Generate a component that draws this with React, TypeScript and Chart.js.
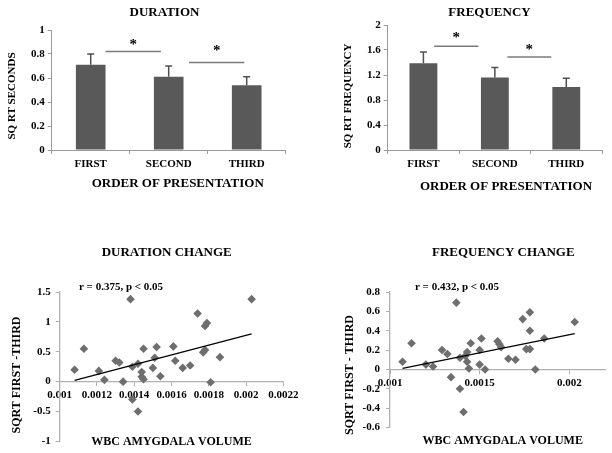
import React, { useEffect, useRef } from "react";
import { Chart, registerables } from "chart.js";

Chart.register(...registerables);

const W = 612;
const H = 453;
const FONT = "'Liberation Serif', 'Times New Roman', serif";

// ---------- DATA ----------
const orderCategories = ["FIRST", "SECOND", "THIRD"];

const durationMeans = [0.71, 0.61, 0.54];
const durationErrors = [0.09, 0.09, 0.07];
const durationTicks = [0, 0.2, 0.4, 0.6, 0.8, 1];
const durationSigFrom = [0.19, 1.26];
const durationSigTo = [0.9, 1.97];
const durationSigY = [0.82, 0.73];
const durationStarY = [0.9, 0.85];

const frequencyMeans = [1.39, 1.16, 1.01];
const frequencyErrors = [0.18, 0.16, 0.14];
const frequencyTicks = [0, 0.4, 0.8, 1.2, 1.6, 2];
const frequencySigFrom = [0.15, 1.175];
const frequencySigTo = [0.77, 1.79];
const frequencySigY = [1.66, 1.49];
const frequencyStarY = [1.84, 1.65];

const durChangeVolume = [
  0.00108, 0.00113, 0.00121, 0.00124, 0.0013, 0.00132, 0.00134, 0.00138, 0.00139, 0.00139,
  0.00142, 0.00142, 0.00144, 0.00144, 0.00145, 0.00145, 0.0015, 0.00151, 0.00152, 0.00154,
  0.00161, 0.00162, 0.00166, 0.0017, 0.00174, 0.00177, 0.00178, 0.00178, 0.00179, 0.00181,
  0.00186, 0.00203,
];
const durChangeValue = [
  0.2, 0.55, 0.18, 0.03, 0.35, 0.32, 0.0, 1.38, 0.25, -0.3,
  0.3, -0.5, 0.16, 0.08, 0.55, 0.04, 0.23, 0.4, 0.58, 0.09,
  0.59, 0.35, 0.23, 0.27, 1.14, 0.49, 0.53, 0.93, 0.98, -0.01,
  0.41, 1.38,
];
const durTrendVolume = [0.00108, 0.00203];
const durTrendValue = [0.02, 0.8];
const durXTicks = [0.001, 0.0012, 0.0014, 0.0016, 0.0018, 0.002, 0.0022];
const durYTicks = [-1, -0.5, 0, 0.5, 1, 1.5];

const freqChangeVolume = [
  0.00107, 0.00112, 0.0012, 0.00124, 0.00129, 0.00132, 0.00134, 0.00137, 0.00139, 0.00139,
  0.00141, 0.00142, 0.00143, 0.00143, 0.00144, 0.00145, 0.0015, 0.0015, 0.00151, 0.00153,
  0.0016, 0.00161, 0.00162, 0.00166, 0.0017, 0.00174, 0.00176, 0.00178, 0.00178, 0.00178,
  0.00181, 0.00186, 0.00203,
];
const freqChangeValue = [
  0.08, 0.27, 0.05, 0.03, 0.2, 0.16, -0.08, 0.69, -0.2, 0.12,
  -0.44, 0.14, 0.18, 0.08, 0.01, 0.27, 0.05, 0.2, 0.32, 0.0,
  0.29, 0.26, 0.23, 0.11, 0.1, 0.52, 0.21, 0.21, 0.59, 0.4,
  0.0, 0.32, 0.49,
];
const freqTrendVolume = [0.00107, 0.00203];
const freqTrendValue = [0.01, 0.37];
const freqXTicks = [0.001, 0.0015, 0.002];
const freqXMax = 0.0022;
const freqYTicks = [-0.6, -0.4, -0.2, 0, 0.2, 0.4, 0.6, 0.8];

// ---------- HELPERS ----------
const fmt = (v: number) => String(Number(v.toPrecision(6)));
const tickFont = { family: FONT, size: 11, weight: "bold" as const };
const AXIS_GREY = "#9a9a9a";

type Area = { left: number; right: number; top: number; bottom: number };
const YW = 40;
const XH = 40;

function padFor(area: Area, xTakesSpace: boolean) {
  return {
    left: area.left - YW,
    right: W - area.right,
    top: area.top,
    bottom: H - area.bottom - (xTakesSpace ? XH : 0),
  };
}

const setTicks = (values: number[]) => (scale: any) => {
  scale.ticks = values.map((v) => ({ value: v }));
};

const textPlugin = {
  id: "texts",
  afterDraw(chart: any, _args: any, opts: any) {
    const ctx = chart.ctx;
    for (const t of opts.items || []) {
      ctx.save();
      ctx.font = `bold ${t.size}px ${FONT}`;
      ctx.fillStyle = "#000";
      ctx.textAlign = "center";
      ctx.textBaseline = "middle";
      ctx.translate(t.x, t.y);
      if (t.rotate) ctx.rotate(-Math.PI / 2);
      ctx.fillText(t.text, 0, 0);
      ctx.restore();
    }
  },
};

const barExtrasPlugin = {
  id: "barExtras",
  afterDatasetsDraw(chart: any, _args: any, opts: any) {
    const ctx = chart.ctx;
    const xs = chart.scales.x;
    const ys = chart.scales.y;
    const meta = chart.getDatasetMeta(0);
    const values = chart.data.datasets[0].data as number[];
    ctx.save();
    // error bars
    ctx.strokeStyle = "#505050";
    ctx.lineWidth = 1.5;
    meta.data.forEach((el: any, i: number) => {
      const top = ys.getPixelForValue(values[i] + opts.errors[i]);
      ctx.beginPath();
      ctx.moveTo(el.x, el.y);
      ctx.lineTo(el.x, top);
      ctx.moveTo(el.x - 3.5, top);
      ctx.lineTo(el.x + 3.5, top);
      ctx.stroke();
    });
    // significance lines and stars
    ctx.strokeStyle = "#7a7a7a";
    ctx.lineWidth = 1.5;
    opts.from.forEach((f: number, i: number) => {
      const x1 = xs.getPixelForValue(f);
      const x2 = xs.getPixelForValue(opts.to[i]);
      const y = ys.getPixelForValue(opts.y[i]);
      ctx.beginPath();
      ctx.moveTo(x1, y);
      ctx.lineTo(x2, y);
      ctx.stroke();
      ctx.fillStyle = "#000";
      ctx.font = `bold 15px ${FONT}`;
      ctx.textAlign = "center";
      ctx.textBaseline = "middle";
      ctx.fillText("*", (x1 + x2) / 2, ys.getPixelForValue(opts.starY[i]) + 3);
    });
    ctx.restore();
  },
};

function barConfig(
  means: number[],
  errors: number[],
  ticks: number[],
  sig: { from: number[]; to: number[]; y: number[]; starY: number[] },
  area: Area,
  barPct: number,
  texts: any[]
) {
  return {
    type: "bar",
    data: {
      labels: orderCategories,
      datasets: [
        {
          data: means,
          backgroundColor: "#595959",
          borderWidth: 0,
          categoryPercentage: 1,
          barPercentage: barPct,
        },
      ],
    },
    plugins: [barExtrasPlugin, textPlugin],
    options: {
      responsive: false,
      animation: false,
      events: [],
      layout: { padding: padFor(area, true) },
      plugins: {
        legend: { display: false },
        tooltip: { enabled: false },
        barExtras: { errors, ...sig },
        texts: { items: texts },
      },
      scales: {
        x: {
          type: "category",
          offset: true,
          afterFit: (s: any) => {
            s.height = XH;
          },
          grid: {
            display: true,
            offset: true,
            drawOnChartArea: false,
            drawTicks: true,
            tickLength: 4,
            color: AXIS_GREY,
          },
          border: { display: true, color: AXIS_GREY, width: 1 },
          ticks: { color: "#000", font: tickFont, padding: 4, maxRotation: 0 },
        },
        y: {
          min: ticks[0],
          max: ticks[ticks.length - 1],
          afterFit: (s: any) => {
            s.width = YW;
          },
          afterBuildTicks: setTicks(ticks),
          grid: {
            display: true,
            drawOnChartArea: false,
            drawTicks: true,
            tickLength: 4,
            color: AXIS_GREY,
          },
          border: { display: true, color: AXIS_GREY, width: 1 },
          ticks: { color: "#000", font: tickFont, padding: 3, callback: (v: number) => fmt(v) },
        },
      },
    },
  };
}

function scatterConfig(
  vol: number[],
  val: number[],
  trendX: number[],
  trendY: number[],
  xTicks: number[],
  xMax: number,
  yTicks: number[],
  area: Area,
  yPad: number,
  texts: any[]
) {
  return {
    type: "scatter",
    data: {
      datasets: [
        {
          data: trendX.map((x, i) => ({ x, y: trendY[i] })),
          showLine: true,
          borderColor: "#000",
          borderWidth: 1.2,
          pointRadius: 0,
          order: 0,
        },
        {
          data: vol.map((x, i) => ({ x, y: val[i] })),
          pointStyle: "rectRot",
          pointRadius: 4.3,
          pointBorderWidth: 0,
          pointBackgroundColor: "#6e6e6e",
          borderColor: "#6e6e6e",
          order: 1,
        },
      ],
    },
    plugins: [textPlugin],
    options: {
      responsive: false,
      animation: false,
      events: [],
      layout: { padding: padFor(area, false) },
      plugins: {
        legend: { display: false },
        tooltip: { enabled: false },
        texts: { items: texts },
      },
      scales: {
        x: {
          type: "linear",
          position: { y: 0 },
          min: xTicks[0],
          max: xMax,
          afterBuildTicks: setTicks(xTicks),
          grid: {
            display: true,
            drawOnChartArea: false,
            drawTicks: true,
            tickLength: 4,
            color: "#b0b0b0",
          },
          border: { display: true, color: "#b0b0b0", width: 1.3 },
          ticks: {
            color: "#000",
            font: tickFont,
            padding: 3,
            autoSkip: false,
            maxRotation: 0,
            callback: (v: number) => fmt(v),
          },
        },
        y: {
          type: "linear",
          position: "left",
          min: yTicks[0],
          max: yTicks[yTicks.length - 1],
          afterFit: (s: any) => {
            s.width = YW;
          },
          afterBuildTicks: setTicks(yTicks),
          grid: {
            display: true,
            drawOnChartArea: false,
            drawTicks: true,
            tickLength: 4,
            color: "#b0b0b0",
          },
          border: { display: true, color: "#b0b0b0", width: 1.3 },
          ticks: { color: "#000", font: tickFont, padding: yPad, callback: (v: number) => fmt(v) },
        },
      },
    },
  };
}

function ChartCanvas({ make }: { make: () => any }) {
  const ref = useRef<HTMLCanvasElement | null>(null);
  useEffect(() => {
    if (!ref.current) return;
    const chart = new Chart(ref.current, make());
    return () => chart.destroy();
  }, []);
  return (
    <canvas
      ref={ref}
      width={W}
      height={H}
      style={{ position: "absolute", left: 0, top: 0, width: W, height: H }}
    />
  );
}

export default function App() {
  const makers = [
    () =>
      barConfig(
        durationMeans,
        durationErrors,
        durationTicks,
        { from: durationSigFrom, to: durationSigTo, y: durationSigY, starY: durationStarY },
        { left: 51.7, right: 285.7, top: 30, bottom: 150 },
        0.38,
        [
          { text: "DURATION", x: 164.5, y: 13, size: 13 },
          { text: "ORDER OF PRESENTATION", x: 177.7, y: 184, size: 13 },
          { text: "SQ RT SECONDS", x: 12, y: 96, size: 11, rotate: true },
        ]
      ),
    () =>
      barConfig(
        frequencyMeans,
        frequencyErrors,
        frequencyTicks,
        { from: frequencySigFrom, to: frequencySigTo, y: frequencySigY, starY: frequencyStarY },
        { left: 387.7, right: 602, top: 25, bottom: 150 },
        0.39,
        [
          { text: "FREQUENCY", x: 489.5, y: 13, size: 13 },
          { text: "ORDER OF PRESENTATION", x: 506, y: 187, size: 13 },
          { text: "SQ RT FREQUENCY", x: 348, y: 96, size: 11, rotate: true },
        ]
      ),
    () =>
      scatterConfig(
        durChangeVolume,
        durChangeValue,
        durTrendVolume,
        durTrendValue,
        durXTicks,
        durXTicks[durXTicks.length - 1],
        durYTicks,
        { left: 59.7, right: 283.3, top: 292, bottom: 442.5 },
        5,
        [
          { text: "DURATION CHANGE", x: 166.7, y: 253, size: 13 },
          { text: "r = 0.375, p < 0.05", x: 121, y: 287, size: 11 },
          { text: "WBC AMYGDALA VOLUME", x: 171.5, y: 441.5, size: 12 },
          { text: "SQRT FIRST -THIRD", x: 17, y: 375, size: 12, rotate: true },
        ]
      ),
    () =>
      scatterConfig(
        freqChangeVolume,
        freqChangeValue,
        freqTrendVolume,
        freqTrendValue,
        freqXTicks,
        freqXMax,
        freqYTicks,
        { left: 390, right: 605.2, top: 292, bottom: 427.5 },
        6,
        [
          { text: "FREQUENCY CHANGE", x: 503.3, y: 253, size: 13 },
          { text: "r = 0.432, p < 0.05", x: 457, y: 287, size: 11 },
          { text: "WBC AMYGDALA VOLUME", x: 502.7, y: 440.5, size: 12 },
          { text: "SQRT FIRST - THIRD", x: 349.5, y: 375, size: 12, rotate: true },
        ]
      ),
  ];
  return (
    <div
      style={{
        position: "fixed",
        left: 0,
        top: 0,
        width: W,
        height: H,
        background: "#fff",
        overflow: "hidden",
      }}
    >
      {makers.map((m, i) => (
        <ChartCanvas key={i} make={m} />
      ))}
    </div>
  );
}
